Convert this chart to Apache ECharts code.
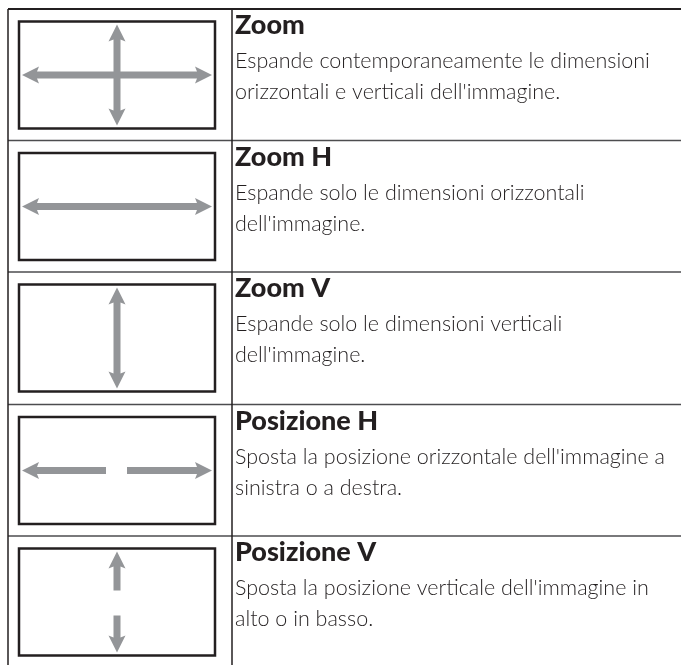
<!DOCTYPE html>
<html>
<head>
<meta charset="utf-8">
<style>
html,body{margin:0;padding:0;background:#fff;}
#chart{width:681px;height:665px;}
</style>
<script src="https://cdn.jsdelivr.net/npm/echarts@6/dist/echarts.min.js"></script>
</head>
<body>
<div id="chart"></div>
<script>
// ---- data ----
var titles = ['Zoom', 'Zoom H', 'Zoom V', 'Posizione H', 'Posizione V'];
var descriptions = [
  ['Espande contemporaneamente le dimensioni', 'orizzontali e verticali dell\'immagine.'],
  ['Espande solo le dimensioni orizzontali', 'dell\'immagine.'],
  ['Espande solo le dimensioni verticali', 'dell\'immagine.'],
  ['Sposta la posizione orizzontale dell\'immagine a', 'sinistra o a destra.'],
  ['Sposta la posizione verticale dell\'immagine in', 'alto o in basso.']
];
var iconTypes = ['both', 'horizontal', 'vertical', 'splitH', 'splitV'];
var rowTops = [9, 140.5, 272, 404.5, 536];

(function () {
  var W = 681, H = 665;
  var leftX = 8, colX = 232;
  var arrowColor = '#939598';
  var lineColor = '#231f20';

  var chart = echarts.init(document.getElementById('chart'), null, {renderer: 'canvas'});
  var g = [];

  function arrowPoly(x1, y1, x2, y2, headStart, headEnd) {
    var dx = x2 - x1, dy = y2 - y1, L = Math.sqrt(dx*dx + dy*dy);
    var ux = dx / L, uy = dy / L, px = -uy, py = ux;
    var sw = 3.5, hw = 8.5, hl = 15, bk = 2;
    function P(t, s) { return [x1 + ux*t + px*s, y1 + uy*t + py*s]; }
    var pts = [];
    if (headStart) {
      pts.push(P(0, 0), P(hl + bk, hw), P(hl, sw));
    } else {
      pts.push(P(0, sw));
    }
    if (headEnd) {
      pts.push(P(L - hl, sw), P(L - hl - bk, hw), P(L, 0), P(L - hl - bk, -hw), P(L - hl, -sw));
    } else {
      pts.push(P(L, sw), P(L, -sw));
    }
    if (headStart) {
      pts.push(P(hl, -sw), P(hl + bk, -hw));
    } else {
      pts.push(P(0, -sw));
    }
    return {type: 'polygon', shape: {points: pts}, style: {fill: arrowColor}, z: 5};
  }

  g.push({type: 'line', shape: {x1: leftX, y1: 9, x2: W, y2: 9}, style: {stroke: lineColor, lineWidth: 2}});
  for (var i = 1; i < rowTops.length; i++) {
    g.push({type: 'line', shape: {x1: leftX, y1: rowTops[i], x2: W, y2: rowTops[i]}, style: {stroke: '#4d4d4f', lineWidth: 1.5}});
  }
  g.push({type: 'line', shape: {x1: leftX, y1: 9, x2: leftX, y2: H}, style: {stroke: lineColor, lineWidth: 1.5}});
  g.push({type: 'line', shape: {x1: colX, y1: 9, x2: colX, y2: H}, style: {stroke: lineColor, lineWidth: 1.5}});

  for (var r = 0; r < titles.length; r++) {
    var rowY = rowTops[r];
    var bx = 19, by = rowY + 12.5, bw = 196, bh = 107;
    g.push({type: 'rect', shape: {x: bx, y: by, width: bw, height: bh}, style: {fill: '#fff', stroke: lineColor, lineWidth: 2.5}, z: 2});
    var cx = bx + bw / 2, cy = by + bh / 2;
    var t = iconTypes[r];
    if (t === 'both' || t === 'horizontal') {
      g.push(arrowPoly(22, cy, 212, cy, true, true));
    }
    if (t === 'both' || t === 'vertical') {
      g.push(arrowPoly(cx, by + 3, cx, by + bh - 3, true, true));
    }
    if (t === 'splitH') {
      g.push(arrowPoly(106, cy, 22, cy, false, true));
      g.push(arrowPoly(127, cy, 212, cy, false, true));
    }
    if (t === 'splitV') {
      g.push(arrowPoly(cx, by + 42, cx, by + 3, false, true));
      g.push(arrowPoly(cx, by + 67, cx, by + bh - 3, false, true));
    }
    g.push({type: 'text', x: 235, y: rowY + 16.5, style: {text: titles[r], font: '900 27px Lato', fill: '#231f20', verticalAlign: 'middle', align: 'left'}, z: 10});
    g.push({type: 'text', x: 235, y: rowY + 37, style: {text: descriptions[r].join('\n'), font: '300 21.5px Lato', lineHeight: 31, fill: '#231f20', verticalAlign: 'top', align: 'left'}, z: 10});
  }

  chart.setOption({animation: false, graphic: {elements: g}});
})();
</script>
</body>
</html>
